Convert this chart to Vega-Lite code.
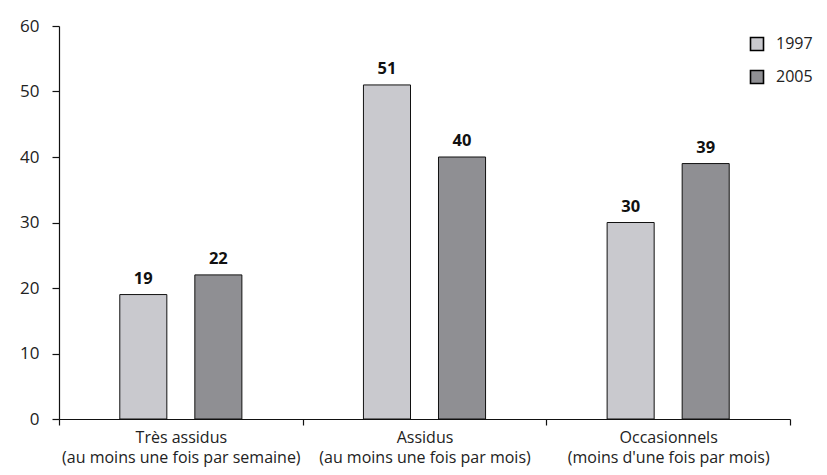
{
  "$schema": "https://vega.github.io/schema/vega-lite/v6.json",
  "width": 731,
  "height": 393,
  "autosize": {"type": "none"},
  "padding": {"left": 59, "top": 26, "right": 37, "bottom": 56},
  "background": "white",
  "config": {
    "view": {"stroke": null},
    "font": "Open Sans",
    "axis": {"labelFont": "Open Sans", "labelFontSize": 16, "labelColor": "#222", "domainColor": "#111", "tickColor": "#111", "domainWidth": 1.2, "tickWidth": 1.2, "labelLimit": 0}
  },
  "data": {
    "values": [
      {"cat": "Très assidus|(au moins une fois par semaine)", "year": "1997", "value": 19},
      {"cat": "Très assidus|(au moins une fois par semaine)", "year": "2005", "value": 22},
      {"cat": "Assidus|(au moins une fois par mois)", "year": "1997", "value": 51},
      {"cat": "Assidus|(au moins une fois par mois)", "year": "2005", "value": 40},
      {"cat": "Occasionnels|(moins d'une fois par mois)", "year": "1997", "value": 30},
      {"cat": "Occasionnels|(moins d'une fois par mois)", "year": "2005", "value": 39}
    ]
  },
  "encoding": {
    "x": {
      "field": "cat", "type": "nominal", "sort": null, "title": null,
      "scale": {"paddingInner": 0, "paddingOuter": 0},
      "axis": {"labelAngle": 0, "tickBand": "extent", "tickSize": 6, "labelPadding": 4, "labelLineHeight": 20, "labelExpr": "split(datum.label, '|')", "labelBaseline": "top"}
    },
    "xOffset": {"field": "year", "type": "nominal", "scale": {"paddingInner": 0.373, "paddingOuter": 0.81}},
    "y": {
      "field": "value", "type": "quantitative", "title": null,
      "scale": {"domain": [0, 60], "nice": false},
      "axis": {"values": [0, 10, 20, 30, 40, 50, 60], "grid": false, "tickSize": 7, "labelPadding": 13, "labelFontSize": 17}
    }
  },
  "layer": [
    {
      "mark": {"type": "bar", "stroke": "#111", "strokeWidth": 1},
      "encoding": {
        "color": {
          "field": "year", "type": "nominal", "title": null,
          "scale": {"domain": ["1997", "2005"], "range": ["#c9c9ce", "#8f8f93"]},
          "legend": {
            "orient": "none", "legendX": 690, "legendY": 10, "padding": 0,
            "symbolType": "square", "symbolSize": 169, "symbolStrokeColor": "#000", "symbolStrokeWidth": 1.6,
            "labelFontSize": 16, "labelFont": "Open Sans", "labelColor": "#222", "labelOffset": 11, "rowPadding": 13
          }
        }
      }
    },
    {
      "mark": {"type": "text", "baseline": "bottom", "dy": -8, "fontSize": 16.5, "fontWeight": "bold", "color": "#111", "font": "Open Sans"},
      "encoding": {"text": {"field": "value", "type": "quantitative"}}
    }
  ]
}
